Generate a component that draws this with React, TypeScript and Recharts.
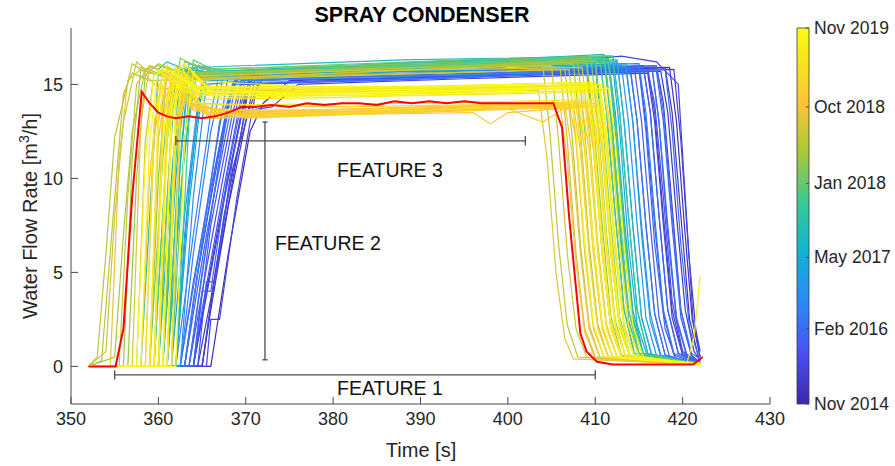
import {
  LineChart,
  ComposedChart,
  Line,
  XAxis,
  YAxis,
  ReferenceLine,
  ReferenceDot,
  ReferenceArea,
} from 'recharts';

type Pt = [number, number];
type Run = [number, Pt[]]; // [colour position on the colorbar 0..1, (time, flow) points]

const xTicks = [350, 360, 370, 380, 390, 400, 410, 420, 430];
const yTicks = [0, 5, 10, 15];
const cbarTicks = [0, 0.2, 0.39, 0.587, 0.79, 1];
const cbarLabels = ['Nov 2014', 'Feb 2016', 'May 2017', 'Jan 2018', 'Oct 2018', 'Nov 2019'];

// oldest runs (blue): late rise, plateau ~15.5, late fall
const blueRuns: Run[] = [
  [0.04, [[352, 0], [365, 0], [366, 3], [368, 8.5], [370, 13], [371, 15.2], [380, 15.4], [395, 15.6], [410, 15.8], [418, 15.9], [418.8, 13.5], [419.8, 8], [420.8, 2.5], [421.8, 0.5], [422, 0.3]]],
  [0.06, [[352, 0], [364.5, 0], [367, 6], [369.5, 12.5], [370.5, 15.3], [385, 15.5], [400, 15.7], [417, 16.0], [417.8, 14], [418.8, 8.5], [419.8, 3], [421, 0.6], [422, 0.2]]],
  [0.08, [[352, 0], [364, 0], [366, 5], [368, 10], [369.5, 13.5], [370.5, 15.6], [390, 15.7], [416, 15.9], [416.8, 13.5], [417.8, 8], [418.8, 3], [420, 0.7], [422, 0.2]]],
  [0.1, [[352, 0], [365.5, 0], [366, 2.5], [367, 2.5], [369, 9], [370.5, 13], [371.5, 15.4], [392, 15.6], [413, 16.5], [417, 16.2], [419.5, 15.0], [420.3, 9], [421.2, 2.5], [422, 0.5]]],
  [0.12, [[352, 0], [363.5, 0], [366, 6.5], [368.5, 12.8], [369.5, 15.0], [385, 15.3], [405, 15.6], [415, 15.8], [415.8, 13], [416.8, 7.5], [417.8, 2.8], [419, 0.6], [422, 0.1]]],
  [0.14, [[352, 0], [364, 0], [365, 3], [367.5, 9.5], [369, 13.2], [370, 15.5], [380, 15.2], [400, 15.6], [416.5, 15.9], [417.3, 13], [418.3, 7], [419.3, 2.5], [420.5, 0.5], [422, 0.2]]],
  [0.16, [[352, 0], [363, 0], [365.5, 7], [368, 13], [369, 15.4], [390, 15.6], [414.5, 15.8], [415.3, 13], [416.3, 7.5], [417.3, 2.6], [418.5, 0.5], [422, 0.1]]],
  [0.18, [[352, 0], [364, 0], [365, 4], [366, 4], [368, 10.5], [369.5, 14], [370.5, 15.3], [395, 15.5], [415.5, 15.9], [416.3, 13.5], [417.3, 8], [418.3, 3], [419.5, 0.7], [422, 0.2]]],
  [0.2, [[352, 0], [363.5, 0], [366, 8], [367.5, 12.5], [368.5, 15.1], [385, 15.2], [418, 15.8], [418.8, 12.5], [419.8, 6.5], [420.8, 2], [422, 0.3]]],
  [0.22, [[352, 0], [362.5, 0], [365, 7], [367, 12.7], [368, 15.5], [390, 15.7], [414, 15.9], [414.8, 13], [415.8, 7.5], [416.8, 2.8], [418, 0.6], [422, 0.1]]],
  [0.24, [[352, 0], [363, 0], [364.5, 5], [367, 13], [368, 14.2], [369, 15.4], [400, 15.5], [417, 16.0], [417.8, 13.5], [418.8, 8], [419.8, 3], [421, 0.7], [422, 0.4]]],
  [0.27, [[352, 0], [362, 0], [364, 7], [366, 13.5], [367, 15.6], [395, 15.8], [413.5, 15.9], [414.3, 13], [415.3, 7.5], [416.3, 2.8], [417.5, 0.6], [422, 0.1]]],
  [0.09, [[352, 0], [365, 0], [367.5, 8], [370, 13.6], [373, 13.8], [376, 15.0], [395, 15.3], [416, 15.6], [416.8, 13], [417.8, 7.5], [418.8, 2.6], [420, 0.6], [422, 0.2]]],
  [0.03, [[352, 0], [366, 0], [368, 6], [370.5, 12.5], [372, 14.0], [375, 15.2], [400, 15.5], [418.5, 15.9], [419.3, 13], [420.2, 7.5], [421.1, 2.5], [422, 0.5]]],
  [0.13, [[352, 0], [364.5, 0], [365.5, 4.5], [366.5, 4.5], [368.5, 11], [370, 14.5], [371, 15.5], [388, 15.4], [416, 15.7], [416.8, 14], [417.8, 9], [418.8, 3.5], [420, 0.8], [422, 0.2]]],
  [0.19, [[352, 0], [363, 0], [364, 3.5], [366.5, 10.5], [368, 14.2], [369, 15.5], [398, 15.6], [415, 15.9], [415.8, 12.5], [416.8, 6.5], [418, 2], [419.2, 0.4], [422, 0.1]]],
  [0.07, [[352, 0], [365, 0], [366.5, 5], [368.5, 10.5], [370, 13], [371, 14.5], [372, 15.4], [395, 15.6], [419, 15.8], [419.8, 12], [420.7, 6], [421.5, 2], [422, 0.8]]],
  [0.05, [[352, 0], [364, 0], [365.5, 4], [367.5, 9], [369.5, 13.3], [370.5, 15.0], [390, 15.3], [417.5, 15.7], [418.3, 13.5], [419.3, 8], [420.3, 3], [421.3, 0.8], [422, 0.3]]],
  [0.11, [[352, 0], [363, 0], [364.5, 5], [367, 11.5], [368.5, 14.8], [369.5, 15.6], [400, 15.8], [415.5, 16.0], [416.3, 13.5], [417.3, 8], [418.3, 3], [419.5, 0.7], [422, 0.1]]],
  [0.15, [[352, 0], [364, 0], [366, 7.5], [368.5, 13.5], [369.5, 15.2], [392, 15.4], [417, 15.7], [417.8, 13], [418.8, 7.5], [419.8, 2.6], [421, 0.6], [422, 0.2]]],
  [0.17, [[352, 0], [362.5, 0], [364, 4.5], [366, 9.5], [368, 14], [369, 15.6], [390, 15.7], [414, 15.8], [414.8, 13], [415.8, 7.5], [416.8, 2.8], [418, 0.6], [422, 0.1]]],
  [0.21, [[352, 0], [363.5, 0], [365, 5], [367, 11], [368.5, 15.0], [396, 15.4], [416.5, 15.8], [417.3, 13], [418.3, 7.5], [419.3, 2.6], [420.5, 0.6], [422, 0.2]]],
  [0.25, [[352, 0], [362.5, 0], [364, 6], [366, 12.5], [367.5, 15.6], [392, 15.9], [415, 16.1], [415.8, 13.5], [416.8, 8], [417.8, 3], [419, 0.7], [422, 0.1]]],
];

// cyan / teal runs
const tealRuns: Run[] = [
  [0.32, [[352, 0], [361.5, 0], [363, 8], [364.5, 14], [365.5, 15.7], [390, 15.9], [412.5, 16.2], [413.3, 13], [414.3, 7.5], [415.3, 2.6], [416.5, 0.5], [422, 0.1]]],
  [0.36, [[352, 0], [361, 0], [362.5, 9], [364, 15.5], [366, 15.3], [390, 15.8], [411.5, 16.3], [412.3, 13.5], [413.3, 8], [414.3, 3], [415.5, 0.7], [422, 0.1]]],
  [0.4, [[352, 0], [360, 0], [361.5, 10], [362.5, 15.8], [365, 15.4], [385, 16.0], [411, 16.4], [411.8, 13.5], [412.8, 7.5], [413.8, 2.5], [415, 0.5], [422, 0.1]]],
  [0.44, [[352, 0], [358, 0], [359, 8], [360, 15.8], [361, 16.2], [364, 15.6], [390, 16.1], [411, 16.6], [411.8, 13.5], [412.8, 8], [413.8, 3], [415, 0.7], [422, 0.1]]],
  [0.38, [[352, 0], [362, 0], [363.5, 8.5], [365, 14.8], [366, 15.6], [380, 15.6], [412, 16.0], [412.8, 12.5], [413.8, 6.5], [414.8, 2.2], [416, 0.5], [422, 0.1]]],
  [0.46, [[352, 0], [361, 0], [362, 6], [363.5, 14.5], [364.5, 16.0], [367, 15.5], [400, 16.2], [412.5, 16.3], [413.3, 13], [414.3, 7.5], [415.3, 2.6], [416.5, 0.6], [422, 0.1]]],
  [0.3, [[352, 0], [362.5, 0], [364, 9], [365.5, 15], [370, 15.2], [400, 15.6], [409, 15.8], [409.8, 12], [410.8, 6], [411.8, 2], [413, 0.5], [422, 0.1]]],
  [0.34, [[352, 0], [362, 0], [363, 7], [364.5, 13.5], [365.5, 15.4], [395, 15.9], [413.5, 16.1], [414.3, 13], [415.3, 7], [416.3, 2.4], [417.5, 0.5], [422, 0.1]]],
  [0.42, [[352, 0], [361.5, 0], [362.5, 11], [363.5, 15.9], [366, 15.6], [392, 16.2], [410.5, 16.4], [411.3, 13.5], [412.3, 8], [413.3, 3], [414.5, 0.6], [422, 0.1]]],
  [0.31, [[352, 0], [362, 0], [363.5, 9.5], [365, 15.3], [372, 15.5], [400, 15.8], [413, 16.0], [413.8, 13], [414.8, 7.5], [415.8, 2.6], [417, 0.6], [422, 0.1]]],
  [0.35, [[352, 0], [360.5, 0], [362, 10], [363, 15.6], [366, 15.2], [394, 15.7], [410, 16.0], [410.8, 12.5], [411.8, 6.5], [412.8, 2.2], [414, 0.5], [422, 0.1]]],
  [0.39, [[352, 0], [361, 0], [362, 8], [363.5, 15.8], [366, 15.6], [390, 16.2], [412, 16.5], [412.8, 13.5], [413.8, 8], [414.8, 3], [416, 0.7], [422, 0.1]]],
  [0.45, [[352, 0], [360, 0], [361, 9], [362, 15.6], [364, 15.9], [388, 16.3], [411.5, 16.5], [412.3, 13], [413.3, 7.5], [414.3, 2.6], [415.5, 0.6], [422, 0.1]]],
];

const greenRuns: Run[] = [
  [0.5, [[352, 0], [359.5, 0], [361, 12], [362, 16.0], [364, 15.6], [390, 16.0], [411, 16.3], [411.8, 13], [412.8, 7], [413.8, 2.4], [415, 0.5], [422, 0.1]]],
  [0.54, [[352, 0], [360.5, 0], [362, 11], [363, 15.9], [366, 15.5], [395, 16.1], [410.5, 16.4], [411.3, 13.5], [412.3, 8], [413.3, 3], [414.5, 0.7], [422, 0.1]]],
  [0.57, [[352, 0], [361.5, 0], [363, 12], [364, 16.3], [367, 15.6], [390, 16.0], [411.5, 16.2], [412.3, 13], [413.3, 7], [414.3, 2.4], [415.5, 0.5], [422, 0.1]]],
  [0.6, [[352, 0], [359, 0], [360.5, 11], [361.5, 15.8], [364, 15.5], [380, 15.9], [410, 16.3], [410.8, 13], [411.8, 7.5], [412.8, 2.6], [414, 0.6], [422, 0.1]]],
  [0.52, [[352, 0], [362, 0], [363.5, 13], [364.5, 16.0], [368, 15.7], [400, 16.3], [412, 16.5], [412.8, 13.5], [413.8, 8], [414.8, 3], [416, 0.7], [422, 0.1]]],
  [0.62, [[352, 0], [360, 0], [361.5, 13], [362.5, 16.4], [365, 15.8], [390, 16.1], [409.5, 16.4], [410.3, 13], [411.3, 7], [412.3, 2.4], [413.5, 0.5], [422, 0.1]]],
  [0.48, [[352, 0], [360.5, 0], [361.5, 9], [362.5, 15.2], [365, 15.5], [388, 15.9], [411.5, 16.2], [412.3, 12.5], [413.3, 6.5], [414.3, 2.2], [415.5, 0.5], [422, 0.1]]],
  [0.51, [[352, 0], [361, 0], [362.5, 12.5], [363.5, 16.1], [366, 15.7], [392, 16.2], [411.5, 16.4], [412.3, 13], [413.3, 7.5], [414.3, 2.6], [415.5, 0.6], [422, 0.1]]],
  [0.55, [[352, 0], [359.5, 0], [361, 12], [362, 15.7], [365, 15.4], [385, 15.8], [410, 16.1], [410.8, 12.5], [411.8, 7], [412.8, 2.4], [414, 0.5], [422, 0.1]]],
  [0.59, [[352, 0], [360.5, 0], [362, 13], [363, 16.2], [366, 15.8], [395, 16.3], [411, 16.5], [411.8, 13.5], [412.8, 8], [413.8, 3], [415, 0.7], [422, 0.1]]],
  [0.63, [[352, 0], [359, 0], [360, 10], [361, 15.9], [363, 15.6], [390, 15.9], [409, 16.2], [409.8, 12.5], [410.8, 6.5], [411.8, 2.2], [413, 0.5], [422, 0.1]]],
];

// olive runs: earliest rise
const oliveRuns: Run[] = [
  [0.7, [[352, 0], [353, 0.5], [354, 6], [355, 12.2], [357, 16.1], [358, 15.8], [362, 15.2], [390, 15.8], [404, 16.0], [404.8, 12.5], [405.8, 6.5], [406.8, 2.2], [408, 0.5], [422, 0.1]]],
  [0.72, [[352, 0], [354, 0.8], [355, 8], [356, 13], [357.5, 16.2], [359, 15.6], [365, 15.3], [395, 15.9], [405, 16.0], [405.8, 12], [406.8, 6], [407.8, 2], [409, 0.5], [422, 0.1]]],
  [0.67, [[352, 0], [355, 0.5], [356, 7], [357, 12.5], [358.5, 15.8], [360, 16.0], [364, 15.4], [390, 15.9], [408, 16.2], [408.8, 12.5], [409.8, 6.5], [410.8, 2.2], [412, 0.5], [422, 0.1]]],
  [0.65, [[352, 0], [356.5, 0], [357.5, 10], [358.5, 15.5], [360, 16.1], [363, 15.5], [395, 16.0], [409, 16.3], [409.8, 13], [410.8, 7.5], [411.8, 2.6], [413, 0.6], [422, 0.1]]],
  [0.75, [[352, 0], [357, 0], [358, 13], [359, 16.0], [362, 15.4], [380, 15.7], [408.5, 15.9], [409.3, 12.5], [410.3, 6.5], [411.3, 2.2], [412.5, 0.5], [422, 0.1]]],
  [0.76, [[352, 0], [354.5, 0], [355.5, 11], [356.5, 15.2], [358, 15.8], [360, 14.8], [380, 14.6], [403.5, 14.7], [404.5, 11], [405.5, 5], [406.5, 1.5], [407.5, 0.4], [422, 0.1]]],
  [0.69, [[352, 0], [353.5, 0.3], [355, 9], [356, 14.5], [357, 15.6], [359, 15.2], [370, 15.4], [400, 15.7], [406.5, 15.9], [407.3, 12.5], [408.3, 6.5], [409.3, 2.2], [410.5, 0.5], [422, 0.1]]],
  [0.66, [[352, 0], [356, 0], [357, 11], [358, 15.9], [360, 15.6], [390, 15.9], [407.5, 16.1], [408.3, 12.5], [409.3, 6.5], [410.3, 2.2], [411.5, 0.5], [422, 0.1]]],
  [0.71, [[352, 0], [355.5, 0], [356.5, 9], [357.5, 15.0], [359, 16.0], [362, 15.3], [392, 15.6], [406, 15.8], [406.8, 12], [407.8, 6], [408.8, 2], [410, 0.5], [422, 0.1]]],
  [0.73, [[352, 0], [357.5, 0], [358.5, 12], [359.5, 15.6], [362, 15.2], [385, 15.5], [407, 15.8], [407.8, 12], [408.8, 6], [409.8, 2], [411, 0.5], [422, 0.1]]],
];

// orange-gold runs: lower plateau ~13.5
const goldRuns: Run[] = [
  [0.8, [[352, 0], [359, 0], [360, 12], [361, 15.5], [362, 15.2], [364, 13.6], [370, 13.3], [390, 13.7], [407, 14.0], [407.8, 12], [408.8, 6.5], [409.8, 2.2], [411, 0.5], [422, 0.1]]],
  [0.82, [[352, 0], [360, 0], [361, 13], [362, 16.0], [364, 14.2], [367, 13.4], [385, 13.6], [408, 13.9], [408.8, 11.5], [409.8, 6], [410.8, 2], [412, 0.5], [422, 0.1]]],
  [0.84, [[352, 0], [361, 0], [362, 12.5], [363, 15.5], [365, 13.8], [370, 13.2], [395, 13.6], [409, 14.0], [409.8, 12], [410.8, 6.5], [411.8, 2.2], [413, 0.5], [422, 0.1]]],
  [0.79, [[352, 0], [358.5, 0], [359.5, 12], [360.5, 15.8], [363, 14.0], [368, 13.5], [390, 13.8], [406.5, 14.0], [407.3, 11.5], [408.3, 6], [409.3, 2], [410.5, 0.5], [422, 0.1]]],
  [0.86, [[352, 0], [360.5, 0], [361.5, 13], [362.5, 15.3], [365, 13.5], [372, 13.3], [400, 13.8], [409.5, 14.1], [410.3, 12], [411.3, 6.5], [412.3, 2.2], [413.5, 0.5], [422, 0.1]]],
  [0.81, [[352, 0], [359.5, 0], [360.5, 14], [361.5, 15.0], [366, 13.2], [380, 13.4], [396, 13.5], [398, 12.9], [400, 13.5], [408.5, 13.8], [409.3, 11.5], [410.3, 6], [411.3, 2], [412.5, 0.5], [422, 0.1]]],
  [0.83, [[352, 0], [360, 0], [361, 13.5], [362, 15.6], [364, 13.8], [375, 13.4], [400, 13.7], [404, 13.0], [406, 13.6], [409, 13.9], [409.8, 11.5], [410.8, 6], [411.8, 2], [413, 0.5], [422, 0.1]]],
  [0.85, [[352, 0], [361.5, 0], [362.5, 14], [363.5, 15.2], [366, 13.6], [385, 13.7], [410, 14.0], [410.8, 11.5], [411.8, 6], [412.8, 2], [414, 0.5], [422, 0.1]]],
  [0.8, [[352, 0], [358, 0], [359, 10], [360, 15], [362, 14.5], [365, 13.5], [390, 13.6], [406, 13.8], [406.8, 11], [407.8, 5.5], [408.8, 1.8], [410, 0.4], [422, 0.1]]],
  [0.78, [[352, 0], [359, 0], [360, 13], [361, 15.3], [364, 13.9], [371, 13.4], [392, 13.6], [407.5, 13.9], [408.3, 11.5], [409.3, 6], [410.3, 2], [411.5, 0.5], [422, 0.1]]],
  [0.8, [[352, 0], [360.5, 0], [361.5, 14], [362.5, 15.0], [366, 13.4], [382, 13.5], [409, 13.9], [409.8, 11.5], [410.8, 6], [411.8, 2], [413, 0.5], [422, 0.1]]],
  [0.82, [[352, 0], [361, 0], [362, 12], [363, 14.8], [366, 13.2], [388, 13.5], [410, 13.8], [410.8, 11.5], [411.8, 6], [412.8, 2], [414, 0.5], [422, 0.1]]],
  [0.84, [[352, 0], [359.5, 0], [360.5, 13], [361.5, 15.4], [364, 13.7], [378, 13.6], [400, 13.9], [408, 14.1], [408.8, 11.5], [409.8, 6], [410.8, 2], [412, 0.5], [422, 0.1]]],
  [0.86, [[352, 0], [361.5, 0], [362.5, 13.5], [363.5, 14.6], [366, 13.3], [390, 13.6], [410.5, 13.9], [411.3, 11.5], [412.3, 6], [413.3, 2], [414.5, 0.5], [422, 0.1]]],
  [0.87, [[352, 0], [360, 0], [361, 13], [362, 15.2], [364, 14.0], [380, 13.8], [409.5, 14.0], [410.3, 11.5], [411.3, 6], [412.3, 2], [413.5, 0.5], [422, 0.1]]],
];

// newest runs (yellow): plateau ~14.7
const yellowRuns: Run[] = [
  [0.9, [[352, 0], [359, 0], [360, 13], [361, 16.0], [363, 15.3], [366, 14.5], [390, 14.7], [409, 15.0], [409.8, 12.5], [410.8, 6.5], [411.8, 2.2], [413, 0.5], [422, 0.1]]],
  [0.92, [[352, 0], [360, 0], [361, 12.5], [362, 15.8], [364, 14.8], [368, 14.4], [395, 14.6], [410, 14.9], [410.8, 12], [411.8, 6], [412.8, 2], [414, 0.5], [422, 0.1]]],
  [0.94, [[352, 0], [361, 0], [362, 13], [363, 16.1], [365, 15.0], [370, 14.6], [390, 14.8], [410.5, 15.0], [411.3, 12.5], [412.3, 6.5], [413.3, 2.2], [414.5, 0.5], [422, 0.1]]],
  [0.96, [[352, 0], [358, 0], [359, 12], [360, 15.8], [362, 15.0], [367, 14.3], [390, 14.5], [408, 14.8], [408.8, 12], [409.8, 6.5], [410.8, 2.2], [412, 0.5], [422, 0.1]]],
  [0.98, [[352, 0], [360.5, 0], [361.5, 13.5], [362.5, 16.0], [364, 14.9], [375, 14.5], [400, 14.7], [409.5, 14.9], [410.3, 12.5], [411.3, 6.5], [412.3, 2.2], [413.5, 0.5], [422, 0.1]]],
  [1.0, [[352, 0], [362, 0], [363, 12], [364, 15.6], [366, 14.6], [380, 14.5], [410, 14.9], [410.8, 12.5], [411.8, 7], [412.8, 2.4], [414, 0.6], [422, 0.1]]],
  [0.88, [[352, 0], [359.5, 0], [360.5, 13], [361.5, 15.5], [364, 14.5], [385, 14.6], [407.5, 14.9], [408.3, 12], [409.3, 6], [410.3, 2], [411.5, 0.5], [422, 0.2]]],
  [0.95, [[352, 0], [359, 0], [360, 14], [361, 15.7], [363, 14.6], [390, 14.7], [409, 14.9], [409.8, 12], [410.8, 6], [411.8, 2], [413, 0.5], [420.5, 0.2], [421.3, 1.5], [422, 4.8]]],
  [0.91, [[352, 0], [361, 0], [362, 14], [363, 15.4], [365, 14.2], [380, 14.3], [411, 14.7], [411.8, 12], [412.8, 6.5], [413.8, 2.2], [415, 0.5], [422, 0.1]]],
  [0.99, [[352, 0], [357.5, 0], [358.5, 11], [359.5, 15.5], [361, 15.8], [364, 14.8], [395, 14.9], [407, 15.1], [407.8, 12.5], [408.8, 6.5], [409.8, 2.2], [411, 0.5], [422, 0.1]]],
  [0.93, [[352, 0], [360, 0], [361, 14], [362, 15.5], [365, 13.9], [390, 14.0], [410.5, 14.2], [411.3, 12], [412.3, 6.5], [413.3, 2.2], [414.5, 0.5], [422, 0.1]]],
  [0.89, [[352, 0], [360, 0], [361, 14], [362, 15.6], [364, 14.8], [385, 14.8], [409.5, 15.1], [410.3, 12.5], [411.3, 6.5], [412.3, 2.2], [413.5, 0.5], [422, 0.1]]],
  [0.9, [[352, 0], [361.5, 0], [362.5, 13], [363.5, 15.9], [366, 14.7], [395, 14.8], [411, 15.0], [411.8, 12.5], [412.8, 6.5], [413.8, 2.2], [415, 0.5], [422, 0.1]]],
  [0.92, [[352, 0], [358.5, 0], [359.5, 13], [360.5, 15.6], [363, 14.6], [390, 14.6], [408.5, 14.9], [409.3, 12], [410.3, 6], [411.3, 2], [412.5, 0.5], [422, 0.1]]],
  [0.94, [[352, 0], [360, 0], [361, 12], [362, 15.9], [364, 15.2], [380, 14.8], [410, 15.1], [410.8, 12.5], [411.8, 6.5], [412.8, 2.2], [414, 0.5], [422, 0.1]]],
  [0.96, [[352, 0], [361, 0], [362, 14.5], [363, 15.3], [366, 14.4], [390, 14.4], [410.5, 14.6], [411.3, 12], [412.3, 6.5], [413.3, 2.2], [414.5, 0.5], [422, 0.1]]],
  [0.97, [[352, 0], [359.5, 0], [360.5, 12], [361.5, 15.7], [364, 14.9], [392, 14.9], [409, 15.1], [409.8, 12.5], [410.8, 6.5], [411.8, 2.2], [413, 0.5], [422, 0.1]]],
  [1.0, [[352, 0], [360.5, 0], [361.5, 13], [362.5, 15.4], [365, 14.4], [388, 14.6], [411.5, 14.8], [412.3, 12], [413.3, 6.5], [414.3, 2.2], [415.5, 0.5], [422, 0.1]]],
];

// highlighted run (red)
const highlightRun: Pt[] = [
  [352, 0], [355.1, 0], [356, 2], [357, 9], [358.1, 14.6], [359, 14.0], [360, 13.5], [361, 13.3], [362, 13.2],
  [363.5, 13.3], [365, 13.2], [366.5, 13.3], [368, 13.5], [369.5, 13.8], [371, 13.8], [373, 13.9], [375, 13.8],
  [377, 14.0], [379, 13.9], [381, 14.0], [383, 14.0], [385, 13.9], [387, 14.1], [389, 14.0], [391, 14.1],
  [393, 14.0], [395, 14.1], [397, 14.0], [399, 14.0], [401, 14.0], [403, 14.0], [405.2, 14.0], [406.2, 12.7],
  [407, 8], [408.3, 1.75], [409, 0.8], [410.2, 0.25], [412, 0.1], [421.2, 0.1], [422.3, 0.5],
];

const parulaStops: [number, string][] = [
  [0, '#3e26a8'], [0.14, '#4752f4'], [0.27, '#2d87f7'], [0.4, '#12b1d6'], [0.53, '#37c897'],
  [0.67, '#abc739'], [0.8, '#fec338'], [0.93, '#f5eb18'], [1, '#f9fb15'],
];

const hex = (h: string) => [1, 3, 5].map(i => parseInt(h.slice(i, i + 2), 16));

function parula(c: number) {
  for (let i = 1; i < parulaStops.length; i++) {
    const [p1, h1] = parulaStops[i - 1];
    const [p2, h2] = parulaStops[i];
    if (c <= p2) {
      const f = (c - p1) / (p2 - p1);
      const a = hex(h1), b = hex(h2);
      return `rgb(${a.map((v, k) => Math.round(v + (b[k] - v) * f)).join(',')})`;
    }
  }
  return parulaStops[parulaStops.length - 1][1];
}

const FONT = "'Liberation Sans', Arial, Helvetica, sans-serif";
const TEXT = '#262626';
const AXIS = '#4a4a4a';
const ANNOT = '#4d4d4d';

const runs = [...blueRuns, ...tealRuns, ...greenRuns, ...oliveRuns, ...goldRuns, ...yellowRuns]
  .sort((a, b) => a[0] - b[0])
  .map(([c, pts], i) => ({ id: i, color: parula(c), data: pts.map(([t, v]) => ({ t, v })) }));

const highlight = highlightRun.map(([t, v]) => ({ t, v }));

const XTick = (p: any) => (
  <g>
    <line x1={p.x} x2={p.x} y1={p.y} y2={p.y - 7} stroke={AXIS} />
    <text x={p.x} y={p.y + 21} textAnchor="middle" fontSize={18} fill={TEXT} fontFamily={FONT}>
      {p.payload.value}
    </text>
  </g>
);

const YTick = (p: any) => (
  <g>
    <line x1={p.x} x2={p.x + 7} y1={p.y} y2={p.y} stroke={AXIS} />
    <text x={p.x - 8} y={p.y + 6.5} textAnchor="end" fontSize={18} fill={TEXT} fontFamily={FONT}>
      {p.payload.value}
    </text>
  </g>
);

const CbarTick = (p: any) => (
  <g>
    <line x1={p.x - 3} x2={p.x} y1={p.y} y2={p.y} stroke={AXIS} />
    <text x={p.x + 5} y={p.y + 6} textAnchor="start" fontSize={17.5} fill={TEXT} fontFamily={FONT}>
      {cbarLabels[cbarTicks.indexOf(p.payload.value)]}
    </text>
  </g>
);

const annotLabel = (value: string) => ({
  value,
  position: 'center' as const,
  fontSize: 19.5,
  fill: '#111',
  fontFamily: FONT,
});

export default function App() {
  return (
    <div style={{ position: 'absolute', left: 0, top: 0, width: 895, height: 466, background: '#fff', fontFamily: FONT }}>
      <LineChart width={895} height={466} margin={{ top: 28, right: 125, bottom: 32, left: 21 }}>
        <XAxis
          type="number"
          dataKey="t"
          domain={[350, 430]}
          ticks={xTicks}
          interval={0}
          tickSize={0}
          tickMargin={0}
          height={30}
          tick={<XTick />}
          axisLine={{ stroke: AXIS }}
          allowDataOverflow
        />
        <YAxis
          type="number"
          dataKey="v"
          domain={[-2, 18]}
          ticks={yTicks}
          interval={0}
          tickSize={0}
          tickMargin={0}
          width={50}
          tick={<YTick />}
          axisLine={{ stroke: AXIS }}
          allowDataOverflow
        />
        {runs.map(r => (
          <Line
            key={r.id}
            data={r.data}
            dataKey="v"
            type="linear"
            stroke={r.color}
            strokeWidth={1.2}
            dot={false}
            activeDot={false}
            isAnimationActive={false}
          />
        ))}
        <Line
          data={highlight}
          dataKey="v"
          type="linear"
          stroke="#ff0000"
          strokeWidth={2}
          dot={false}
          activeDot={false}
          isAnimationActive={false}
        />

        {/* FEATURE 1 */}
        <ReferenceLine segment={[{ x: 355, y: -0.45 }, { x: 410, y: -0.45 }]} stroke={ANNOT} strokeWidth={1.3} />
        <ReferenceLine segment={[{ x: 355, y: -0.7 }, { x: 355, y: -0.2 }]} stroke={ANNOT} strokeWidth={1.3} />
        <ReferenceLine segment={[{ x: 410, y: -0.7 }, { x: 410, y: -0.2 }]} stroke={ANNOT} strokeWidth={1.3} />
        {/* FEATURE 2 */}
        <ReferenceLine segment={[{ x: 372.2, y: 0.35 }, { x: 372.2, y: 13.0 }]} stroke={ANNOT} strokeWidth={1.3} />
        <ReferenceLine segment={[{ x: 371.9, y: 0.35 }, { x: 372.5, y: 0.35 }]} stroke={ANNOT} strokeWidth={1.3} />
        <ReferenceLine segment={[{ x: 371.9, y: 13.0 }, { x: 372.5, y: 13.0 }]} stroke={ANNOT} strokeWidth={1.3} />
        {/* FEATURE 3 */}
        <ReferenceLine segment={[{ x: 362, y: 12 }, { x: 402, y: 12 }]} stroke={ANNOT} strokeWidth={1.3} />
        <ReferenceLine segment={[{ x: 362, y: 11.75 }, { x: 362, y: 12.25 }]} stroke={ANNOT} strokeWidth={1.3} />
        <ReferenceLine segment={[{ x: 402, y: 11.75 }, { x: 402, y: 12.25 }]} stroke={ANNOT} strokeWidth={1.3} />

        <ReferenceDot x={386.5} y={-1.15} r={0} fill="none" stroke="none" label={annotLabel('FEATURE 1')} />
        <ReferenceDot x={379.4} y={6.56} r={0} fill="none" stroke="none" label={annotLabel('FEATURE 2')} />
        <ReferenceDot x={386.5} y={10.44} r={0} fill="none" stroke="none" label={annotLabel('FEATURE 3')} />
      </LineChart>

      {/* colorbar */}
      <div style={{ position: 'absolute', left: 780, top: 0 }}>
        <ComposedChart
          width={115}
          height={466}
          data={[{ x: 0, y: 0 }, { x: 1, y: 1 }]}
          margin={{ top: 28, right: 26, bottom: 62, left: 17 }}
        >
          <defs>
            <linearGradient id="parulaGrad" x1="0" y1="1" x2="0" y2="0">
              {parulaStops.map(([p, h]) => (
                <stop key={p} offset={`${p * 100}%`} stopColor={h} />
              ))}
            </linearGradient>
          </defs>
          <XAxis type="number" dataKey="x" domain={[0, 1]} hide />
          <YAxis
            type="number"
            orientation="right"
            domain={[0, 1]}
            ticks={cbarTicks}
            interval={0}
            width={60}
            tickSize={0}
            tickMargin={0}
            axisLine={false}
            tick={<CbarTick />}
          />
          <Line dataKey="y" stroke="none" dot={false} activeDot={false} isAnimationActive={false} />
          <ReferenceArea x1={0} x2={1} y1={0} y2={1} fill="url(#parulaGrad)" fillOpacity={1} stroke="#3a3a3a" strokeWidth={0.8} />
        </ComposedChart>
      </div>

      {/* title and axis labels */}
      <svg width={895} height={466} style={{ position: 'absolute', left: 0, top: 0, pointerEvents: 'none' }}>
        <text x={422} y={22} textAnchor="middle" fontSize={21.5} fontWeight="bold" fill="#000" fontFamily={FONT}>
          SPRAY CONDENSER
        </text>
        <text x={421} y={457} textAnchor="middle" fontSize={20} fill={TEXT} fontFamily={FONT}>
          Time [s]
        </text>
        <text transform="translate(37,216) rotate(-90)" textAnchor="middle" fontSize={20} fill={TEXT} fontFamily={FONT}>
          Water Flow Rate [m<tspan dy={-8} fontSize={14}>3</tspan><tspan dy={8}>/h]</tspan>
        </text>
      </svg>
    </div>
  );
}
